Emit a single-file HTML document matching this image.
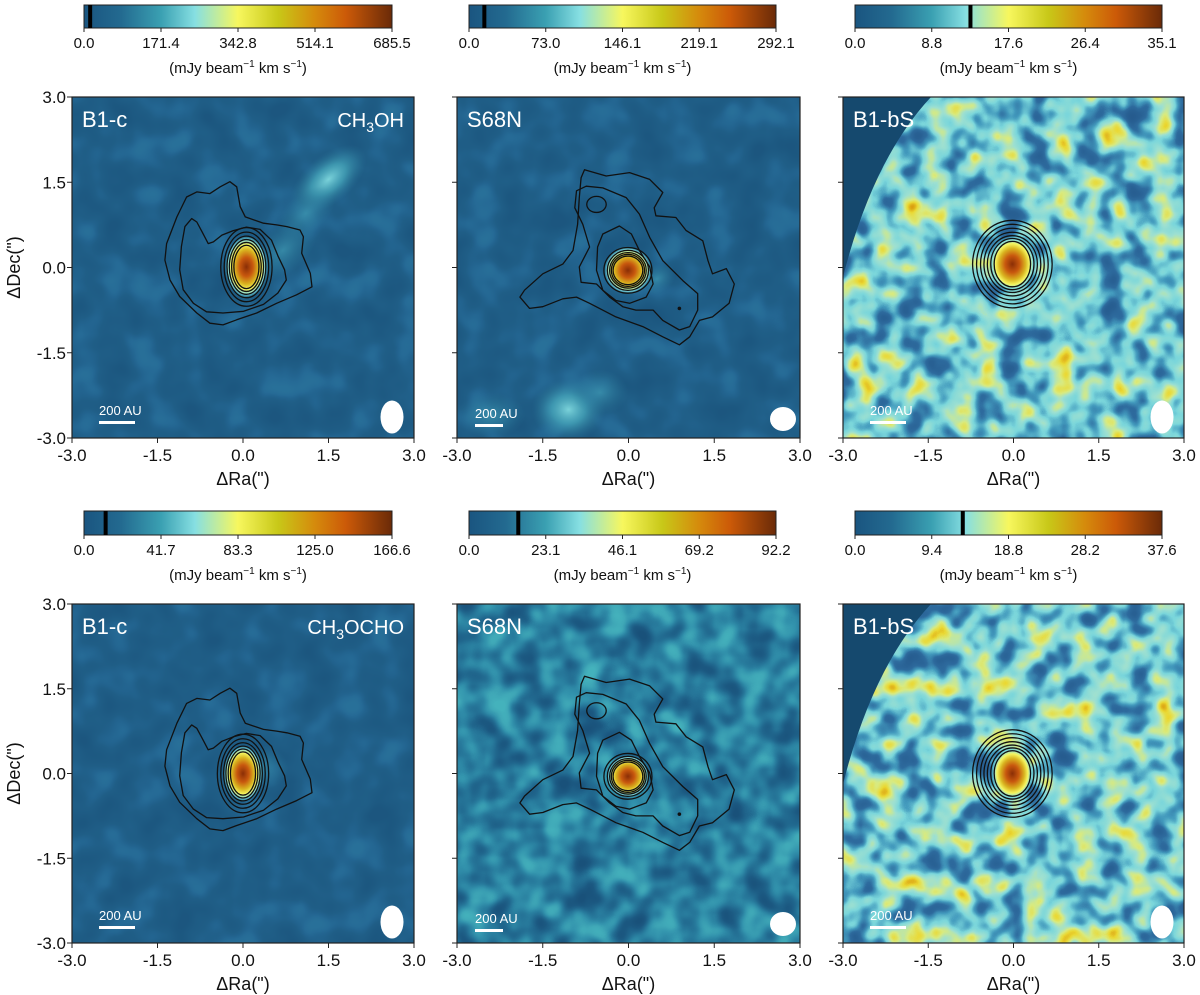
<!DOCTYPE html>
<html><head><meta charset="utf-8"><style>
html,body{margin:0;padding:0;background:#fff;}
svg{display:block;font-family:"Liberation Sans","DejaVu Sans",sans-serif;}
</style></head><body>
<svg id="fig" width="1200" height="995" viewBox="0 0 1200 995" xmlns="http://www.w3.org/2000/svg">
<defs>
<linearGradient id="cmap" x1="0" x2="1" y1="0" y2="0">
<stop offset="0" stop-color="#1a5580"/><stop offset="0.12" stop-color="#236a90"/><stop offset="0.25" stop-color="#3aa0b2"/>
<stop offset="0.36" stop-color="#86dfe2"/><stop offset="0.5" stop-color="#f7f75e"/><stop offset="0.63" stop-color="#c8c818"/>
<stop offset="0.75" stop-color="#d58a0c"/><stop offset="0.85" stop-color="#cc5a08"/><stop offset="1" stop-color="#6a2a08"/>
</linearGradient>
<radialGradient id="core"><stop offset="0" stop-color="#8a2e06"/><stop offset="0.3" stop-color="#c8580e"/><stop offset="0.55" stop-color="#d9b420"/><stop offset="0.72" stop-color="#f5f560"/><stop offset="0.86" stop-color="#84dce0"/><stop offset="1" stop-color="#3aa0b2" stop-opacity="0"/></radialGradient>
<radialGradient id="cyan"><stop offset="0" stop-color="#7fd8de" stop-opacity="0.95"/><stop offset="0.45" stop-color="#4aaec0" stop-opacity="0.7"/><stop offset="1" stop-color="#2a7a9c" stop-opacity="0"/></radialGradient>
<radialGradient id="teal"><stop offset="0" stop-color="#3b93ae" stop-opacity="0.8"/><stop offset="1" stop-color="#2a7a9c" stop-opacity="0"/></radialGradient>
<filter id="nz3" x="0" y="0" width="100%" height="100%" color-interpolation-filters="sRGB"><feTurbulence type="fractalNoise" baseFrequency="0.04" numOctaves="2" seed="3"/><feColorMatrix type="matrix" values="1 0 0 0 0 1 0 0 0 0 1 0 0 0 0 0 0 0 0 1"/><feComponentTransfer><feFuncR type="table" tableValues=".15 .15 .16 .18 .26 .48 .62 .85 .92 .85 .8"/><feFuncG type="table" tableValues=".36 .36 .38 .42 .6 .84 .88 .92 .85 .6 .6"/><feFuncB type="table" tableValues=".56 .56 .58 .62 .74 .86 .82 .5 .2 .05 .05"/><feFuncA type="table" tableValues="1 1"/></feComponentTransfer></filter>
<filter id="nz6" x="0" y="0" width="100%" height="100%" color-interpolation-filters="sRGB"><feTurbulence type="fractalNoise" baseFrequency="0.04" numOctaves="2" seed="11"/><feColorMatrix type="matrix" values="1 0 0 0 0 1 0 0 0 0 1 0 0 0 0 0 0 0 0 1"/><feComponentTransfer><feFuncR type="table" tableValues=".15 .15 .16 .18 .26 .48 .62 .85 .92 .85 .8"/><feFuncG type="table" tableValues=".36 .36 .38 .42 .6 .84 .88 .92 .85 .6 .6"/><feFuncB type="table" tableValues=".56 .56 .58 .62 .74 .86 .82 .5 .2 .05 .05"/><feFuncA type="table" tableValues="1 1"/></feComponentTransfer></filter>
<filter id="nz5" x="0" y="0" width="100%" height="100%" color-interpolation-filters="sRGB"><feTurbulence type="fractalNoise" baseFrequency="0.035" numOctaves="2" seed="7"/><feColorMatrix type="matrix" values="1 0 0 0 0 1 0 0 0 0 1 0 0 0 0 0 0 0 0 1"/><feComponentTransfer><feFuncR type="table" tableValues=".1 .1 .1 .11 .13 .16 .2 .25 .27 .27 .27"/><feFuncG type="table" tableValues=".32 .32 .32 .35 .41 .49 .58 .66 .7 .7 .7"/><feFuncB type="table" tableValues=".48 .48 .48 .51 .56 .62 .68 .72 .74 .74 .74"/><feFuncA type="table" tableValues="1 1"/></feComponentTransfer></filter>
<filter id="nz1" x="0" y="0" width="100%" height="100%" color-interpolation-filters="sRGB"><feTurbulence type="fractalNoise" baseFrequency="0.03" numOctaves="2" seed="5"/><feColorMatrix type="matrix" values="1 0 0 0 0 1 0 0 0 0 1 0 0 0 0 0 0 0 0 1"/><feComponentTransfer><feFuncR type="table" tableValues=".11 .11 .11 .115 .12 .125 .135 .15 .16 .16 .16"/><feFuncG type="table" tableValues=".34 .34 .34 .35 .36 .37 .39 .42 .44 .44 .44"/><feFuncB type="table" tableValues=".5 .5 .5 .51 .52 .53 .56 .59 .6 .6 .6"/><feFuncA type="table" tableValues="1 1"/></feComponentTransfer></filter>
</defs>
</svg>
<script>
const categories=['B1-c','S68N','B1-bS','B1-c','S68N','B1-bS'];
const molecules=['CH3OH','','','CH3OCHO','',''];
const cbMax=[685.5,292.1,35.1,166.6,92.2,37.6];
const cbTickLabels=[['0.0','171.4','342.8','514.1','685.5'],['0.0','73.0','146.1','219.1','292.1'],['0.0','8.8','17.6','26.4','35.1'],['0.0','41.7','83.3','125.0','166.6'],['0.0','23.1','46.1','69.2','92.2'],['0.0','9.4','18.8','28.2','37.6']];
const cbThreshold=[13.7,14.6,13.2,11.7,14.8,13.2];
const axisTicks=[3.0,1.5,0.0,-1.5,-3.0];
const xTickLabels=['-3.0','-1.5','0.0','1.5','3.0'];
const b1cOuter=[[-0.23,1.51],[-0.11,1.42],[-0.05,1.07],[0.04,0.89],[0.36,0.78],[0.59,0.75],[0.77,0.72],[1.0,0.66],[1.06,0.54],[1.03,0.25],[1.18,-0.1],[1.21,-0.34],[0.94,-0.48],[0.59,-0.63],[0.24,-0.8],[-0.11,-0.92],[-0.35,-1.01],[-0.58,-0.98],[-0.81,-0.8],[-1.11,-0.51],[-1.28,-0.22],[-1.37,0.13],[-1.34,0.42],[-1.16,0.89],[-0.99,1.24],[-0.81,1.33],[-0.58,1.3],[-0.4,1.42]];
const b1cMid=[[-0.9,0.86],[-0.81,0.8],[-0.72,0.63],[-0.61,0.42],[-0.52,0.45],[-0.37,0.57],[-0.17,0.65],[0.06,0.71],[0.3,0.67],[0.5,0.48],[0.62,0.19],[0.73,-0.04],[0.76,-0.22],[0.61,-0.45],[0.36,-0.65],[0.01,-0.77],[-0.35,-0.8],[-0.64,-0.78],[-0.87,-0.63],[-1.05,-0.39],[-1.11,-0.04],[-1.08,0.37],[-1.02,0.72]];
const s68Outer=[[-0.77,1.72],[-0.39,1.61],[0.02,1.67],[0.37,1.55],[0.6,1.32],[0.45,1.05],[0.48,0.91],[0.83,0.88],[1.01,0.65],[1.3,0.47],[1.39,0.12],[1.47,-0.11],[1.71,-0.02],[1.85,-0.29],[1.76,-0.63],[1.47,-0.87],[1.24,-0.93],[1.07,-1.22],[0.89,-1.36],[0.6,-1.22],[0.25,-1.04],[-0.22,-0.87],[-0.68,-0.63],[-0.91,-0.52],[-1.15,-0.55],[-1.5,-0.69],[-1.73,-0.72],[-1.9,-0.52],[-1.82,-0.4],[-1.5,-0.11],[-1.15,0.06],[-0.97,0.3],[-0.89,0.76],[-0.86,1.23],[-0.83,1.58]];
const s68Mid=[[-0.91,1.35],[-0.74,1.43],[-0.45,1.4],[-0.04,1.23],[0.19,0.94],[0.37,0.53],[0.6,0.12],[0.95,-0.23],[1.21,-0.46],[1.21,-0.75],[1.07,-1.04],[0.89,-1.1],[0.6,-0.93],[0.43,-0.75],[0.13,-0.75],[-0.1,-0.69],[-0.33,-0.52],[-0.56,-0.29],[-0.83,-0.26],[-0.86,0.01],[-0.68,0.36],[-0.8,0.76],[-0.94,1.05]];
const s68Inner=[[-0.45,0.59],[-0.16,0.73],[0.05,0.59],[0.19,0.3],[0.37,0.01],[0.43,-0.29],[0.31,-0.52],[0.02,-0.63],[-0.22,-0.58],[-0.45,-0.4],[-0.56,-0.05],[-0.54,0.36]];
const b1cRings=[[0.45,0.69],[0.39,0.61],[0.34,0.54],[0.3,0.48],[0.26,0.43],[0.22,0.38]];
const s68Rings=[[0.42,0.4],[0.36,0.35],[0.32,0.31],[0.29,0.28],[0.26,0.25]];
const bsRings=[[0.7,0.77],[0.63,0.7],[0.56,0.63],[0.5,0.56],[0.44,0.5],[0.38,0.45],[0.32,0.4]];
const coreCenter=[[0.06,0.01],[-0.01,-0.05],[-0.02,0.06],[0.0,0.0],[-0.01,-0.05],[-0.02,0.0]];
const coreSize=[[0.38,0.55],[0.42,0.42],[0.42,0.5],[0.35,0.5],[0.38,0.38],[0.38,0.48]];
const extraBlobs=[[1.5,1.55,0.8,0.42,-40,'cyan'],[0.7,0.3,0.7,0.4,-40,'teal'],[1.1,0.95,0.6,0.35,-40,'teal']];
const s68Blobs=[[-1.05,-2.5,0.65,0.55,0,'cyan'],[-0.5,-2.2,0.5,0.4,0,'teal'],[-2.4,-2.6,0.6,0.4,0,'teal'],[0.5,-0.2,0.35,0.25,-30,'teal']];

const NS='http://www.w3.org/2000/svg';
const svg=document.getElementById('fig');
const cols=[[72,414],[457,800],[843,1184]];
const rows=[[97,438],[604,943]];
const cbX=[[84,392],[469,776],[855,1162]];
const cbY=[[5,28],[511,535]];
function mk(tag,attrs,parent){const e=document.createElementNS(NS,tag);for(const k in attrs)e.setAttribute(k,attrs[k]);(parent||svg).appendChild(e);return e;}
function sx(p,v){return p.x0+(v+3)/6*(p.x1-p.x0);}
function sy(p,v){return p.y1-(v+3)/6*(p.y1-p.y0);}
function scl(p){return (p.x1-p.x0)/6;}
function poly(p,pts,g,name){const d=pts.map((q,i)=>(i?'L':'M')+sx(p,q[0]).toFixed(1)+','+sy(p,q[1]).toFixed(1)).join('')+'Z';
 const e=mk('path',{d:d,fill:'none',stroke:'#111',"stroke-width":1.3,"stroke-linejoin":'round'},g);
 
 }
function ring(p,c,r,g,name){const e=mk('ellipse',{cx:sx(p,c[0]),cy:sy(p,c[1]),rx:r[0]*scl(p),ry:r[1]*scl(p),fill:'none',stroke:'#111',"stroke-width":1.3},g);
 
 }
function blob(p,b,g){const e=mk('ellipse',{cx:sx(p,b[0]),cy:sy(p,b[1]),rx:b[2]*scl(p),ry:b[3]*scl(p),fill:'url(#'+b[5]+')',transform:'rotate('+b[4]+' '+sx(p,b[0])+' '+sy(p,b[1])+')'},g);
 
 }

for(let i=0;i<6;i++){
 const r=Math.floor(i/3),c=i%3;
 const p={x0:cols[c][0],x1:cols[c][1],y0:rows[r][0],y1:rows[r][1]};
 const g=mk('g',{});
 
 
 const cid='clip'+i;
 const cp=mk('clipPath',{id:cid},g);mk('rect',{x:p.x0,y:p.y0,width:p.x1-p.x0,height:p.y1-p.y0},cp);
 const img=mk('g',{"clip-path":'url(#'+cid+')'},g);
 
 
 const fid=(c===2)?(r?'nz6':'nz3'):(i===4?'nz5':'nz1');
 mk('rect',{x:p.x0,y:p.y0,width:p.x1-p.x0,height:p.y1-p.y0,fill:'#1d5c84',filter:'url(#'+fid+')'},img);
 if(c===2){
  const d='M'+p.x0+','+p.y0+'L'+(p.x0+88)+','+p.y0+'Q'+(p.x0+30)+','+(p.y0+62)+' '+p.x0+','+(p.y0+180)+'Z';
  const e=mk('path',{d:d,fill:'#15496e'},img);
  
  
 }
 if(i===0)extraBlobs.forEach(b=>blob(p,b,img));
 if(i===1)s68Blobs.forEach(b=>blob(p,b,img));
 if(i===3)blob(p,[0.3,0.1,0.5,0.4,0,'teal'],img);
 const cc=coreCenter[i],cs=coreSize[i];
 const core=mk('ellipse',{cx:sx(p,cc[0]),cy:sy(p,cc[1]),rx:cs[0]*scl(p),ry:cs[1]*scl(p),fill:'url(#core)'},img);
 
 
 if(c===0){poly(p,b1cOuter,img,'contour-outer');poly(p,b1cMid,img,'contour-mid');b1cRings.forEach(q=>ring(p,cc,q,img,'contour-ring'));}
 if(c===1){poly(p,s68Outer,img,'contour-outer');poly(p,s68Mid,img,'contour-mid');poly(p,s68Inner,img,'contour-inner');
  ring(p,[-0.56,1.11],[0.17,0.14],img,'contour-knot');s68Rings.forEach(q=>ring(p,cc,q,img,'contour-ring'));
  const dot=mk('circle',{cx:sx(p,0.89),cy:sy(p,-0.72),r:1.8,fill:'#111'},img);
  
  }
 if(c===2){bsRings.forEach(q=>ring(p,cc,q,img,'contour-ring'));}
 const lab=mk('text',{x:p.x0+10,y:p.y0+30,fill:'#fff',"font-size":22},g);lab.textContent=categories[i];
 
 
 if(molecules[i]){const m=mk('text',{x:p.x1-10,y:p.y0+30,fill:'#fff',"font-size":20,"text-anchor":'end'},g);
  m.innerHTML=molecules[i].replace('3','<tspan font-size="14" dy="5">3</tspan><tspan dy="-5">')+'</tspan>';
  
  }
 const sbx=p.x0+(c===1?18:27), sby=p.y1-(c===1?14:17);
 const sb=mk('rect',{x:sbx,y:sby,width:c===1?28:36,height:3,fill:'#fff'},g);
 
 
 const st=mk('text',{x:sbx,y:sby-6,fill:'#fff',"font-size":13},g);st.textContent='200 AU';
 
 
 const bm=mk('ellipse',{cx:p.x1-(c===1?17:22),cy:p.y1-(c===1?19:21),rx:c===1?13:11.5,ry:c===1?12:16.5,fill:'#fff'},g);
 
 
 mk('rect',{x:p.x0,y:p.y0,width:p.x1-p.x0,height:p.y1-p.y0,fill:'none',stroke:'#222',"stroke-width":1.2},g);
 axisTicks.forEach((t,k)=>{
  mk('line',{x1:p.x0,x2:p.x0-5,y1:sy(p,t),y2:sy(p,t),stroke:'#222'},g);
  mk('line',{x1:sx(p,-t),x2:sx(p,-t),y1:p.y1,y2:p.y1+5,stroke:'#222'},g);
  if(c===0){const yl=mk('text',{x:p.x0-6,y:sy(p,t)+6,"font-size":17,"text-anchor":'end',fill:'#111'},g);yl.textContent=t.toFixed(1);
   
   }
  const xl=mk('text',{x:sx(p,-t),y:p.y1+23,"font-size":17,"text-anchor":'middle',fill:'#111'},g);xl.textContent=xTickLabels[k];
  
  
 });
 const xt=mk('text',{x:(p.x0+p.x1)/2,y:p.y1+47,"font-size":18,"text-anchor":'middle',fill:'#111'},g);xt.textContent='ΔRa(")';
 
 
 if(c===0){const yt=mk('text',{x:20,y:(p.y0+p.y1)/2,"font-size":18,"text-anchor":'middle',fill:'#111',transform:'rotate(-90 20 '+(p.y0+p.y1)/2+')'},g);yt.textContent='ΔDec(")';
  
  }
 const bx=cbX[c],by=cbY[r],cg=mk('g',{});
 
 
 mk('rect',{x:bx[0],y:by[0],width:bx[1]-bx[0],height:by[1]-by[0],fill:'url(#cmap)',stroke:'#222',"stroke-width":1},cg);
 const lvl=mk('rect',{x:bx[0]+cbThreshold[i]/cbMax[i]*(bx[1]-bx[0])-2,y:by[0],width:4,height:by[1]-by[0],fill:'#000'},cg);
 
 
 for(let k=0;k<5;k++){const xx=bx[0]+k/4*(bx[1]-bx[0]);
  mk('line',{x1:xx,x2:xx,y1:by[1],y2:by[1]+4,stroke:'#222'},cg);
  const tl=mk('text',{x:xx,y:by[1]+20,"font-size":15,"text-anchor":'middle',fill:'#111'},cg);tl.textContent=cbTickLabels[i][k];
  
  }
 const cl=mk('text',{x:(bx[0]+bx[1])/2,y:by[1]+45,"font-size":15,"text-anchor":'middle',fill:'#111'},cg);
 cl.innerHTML='(mJy beam<tspan font-size="10" dy="-6">−1</tspan><tspan dy="6"> km s</tspan><tspan font-size="10" dy="-6">−1</tspan><tspan dy="6">)</tspan>';
 
 
}
</script>
</body></html>
